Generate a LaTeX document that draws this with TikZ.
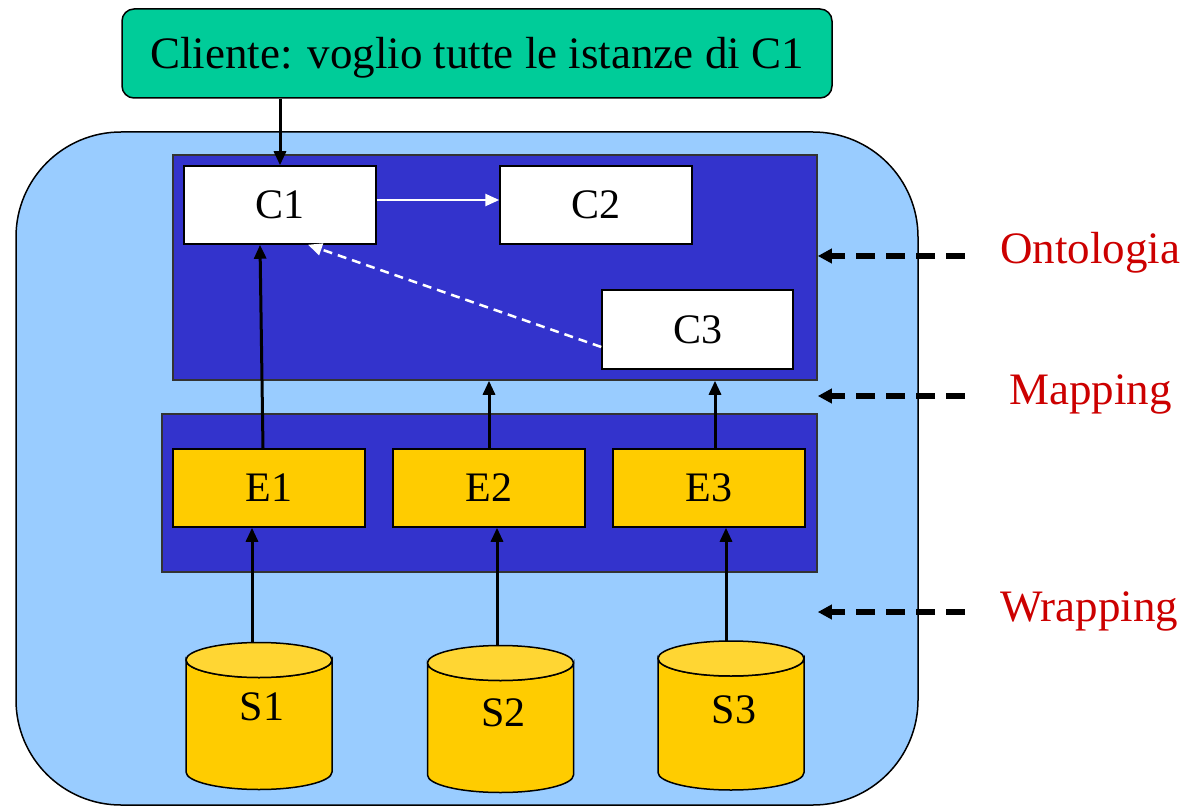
\documentclass[tikz,border=0pt]{standalone}
\usepackage{fontspec}
\setmainfont{Liberation Serif}
\usetikzlibrary{arrows.meta}
\definecolor{cgreen}{HTML}{00CC99}
\definecolor{clight}{HTML}{99CCFF}
\definecolor{cdark}{HTML}{3333CC}
\definecolor{cyellow}{HTML}{FFCC00}
\definecolor{ctop}{HTML}{FFD633}
\definecolor{cred}{HTML}{CC0000}
\begin{document}
\begin{tikzpicture}[x=1pt,y=1pt,
  bigfont/.style={font=\fontsize{45}{54}\selectfont},
  boxfont/.style={font=\fontsize{42}{50}\selectfont, text height=27.8pt, text depth=0pt},
  cbox/.style={draw=black, line width=1.5pt, fill=white, minimum width=192pt, minimum height=78pt, inner sep=0pt, boxfont},
  ebox/.style={cbox, fill=cyellow},
  panel/.style={draw=black!80, line width=1.5pt, fill=cdark, inner sep=0pt},
  cyltext/.style={inner sep=0pt, boxfont},
  layerlabel/.style={text=cred, bigfont, anchor=base west, inner sep=0pt},
  arr/.style={draw=black, line width=3pt, -{Triangle[length=14pt,width=12pt]}},
  warr/.style={draw=white, line width=2.5pt, -{Triangle[length=14pt,width=12pt]}},
  wdash/.style={warr, dash pattern=on 9pt off 6pt},
  ldash/.style={draw=black, line width=6pt, dash pattern=on 19pt off 11pt, -{Triangle[length=14pt,width=14pt]}}
]
\useasboundingbox (0,0) rectangle (1185,807);
% outer container
\filldraw[fill=clight, draw=black, line width=1.5pt, rounded corners=105pt] (16,2) rectangle (918,675);
% client
\node[draw=black, line width=1.5pt, fill=cgreen, rounded corners=12pt, minimum width=710pt, minimum height=89pt, inner sep=0pt, bigfont, text height=29.8pt, text depth=0pt] (client) at (477,753.5) {Cliente: voglio tutte le istanze di C1};
% panels
\node[panel, minimum width=644pt, minimum height=225pt] (onto) at (495,539.5) {};
\node[panel, minimum width=655pt, minimum height=158pt] (epanel) at (489.5,314) {};
% concepts
\node[cbox] (C1) at (280,602) {C1};
\node[cbox] (C2) at (596,602) {C2};
\node[cbox, minimum width=191pt, minimum height=79pt] (C3) at (697.5,477.5) {C3};
% extractors
\node[ebox] (E1) at (269,319) {E1};
\node[ebox] (E2) at (489,319) {E2};
\node[ebox] (E3) at (709,319) {E3};
% sources (cylinders)
\foreach \cx/\ty/\by/\n/\ly in {259/147/35/S1/100.5, 500.5/144/32/S2/94, 731/148.5/34.5/S3/97}{
  \filldraw[fill=cyellow, draw=black, line width=1.5pt] (\cx-73,\ty) -- (\cx-73,\by) arc[start angle=180, end angle=360, x radius=73, y radius=17.5] -- (\cx+73,\ty) arc[start angle=0, end angle=-180, x radius=73, y radius=17.5] -- cycle;
  \filldraw[fill=ctop, draw=black, line width=1.5pt] (\cx,\ty) ellipse[x radius=73, y radius=17.5];
  \node[cyltext] (\n) at (\cx+3,\ly) {\n};
}
\coordinate (S1t) at (252,164.5);
\coordinate (S2t) at (497,161.5);
\coordinate (S3t) at (726,166);
% arrows
\draw[arr] (C1.north |- client.south) -- (C1.north);
\draw[warr] ([yshift=5pt]C1.east) -- ([yshift=5pt]C2.west);
\draw[wdash] ([yshift=-17.5pt]C3.west) -- ([xshift=28pt]C1.south);
\draw[arr] ([xshift=-6pt]E1.north) -- ([xshift=-20pt]C1.south);
\draw[arr] (E2.north) -- (E2.north |- onto.south);
\draw[arr] ([xshift=6pt]E3.north) -- ([xshift=6pt]E3.north |- onto.south);
\draw[arr] (S1t) -- (S1t |- E1.south);
\draw[arr] (S2t) -- (S2t |- E2.south);
\draw[arr] (S3t) -- (S3t |- E3.south);
% layer labels
\coordinate (oL) at (965,551);
\coordinate (mL) at (965,411);
\coordinate (wL) at (965,195);
\draw[ldash] (oL) -- (oL -| onto.east);
\draw[ldash] (mL) -- (mL -| onto.east);
\draw[ldash] (wL) -- (wL -| epanel.east);
\node[layerlabel] (lo) at (1000,543) {Ontologia};
\node[layerlabel] (lm) at (1009,403) {Mapping};
\node[layerlabel] (lw) at (1000,186) {Wrapping};
\end{tikzpicture}
\end{document}
